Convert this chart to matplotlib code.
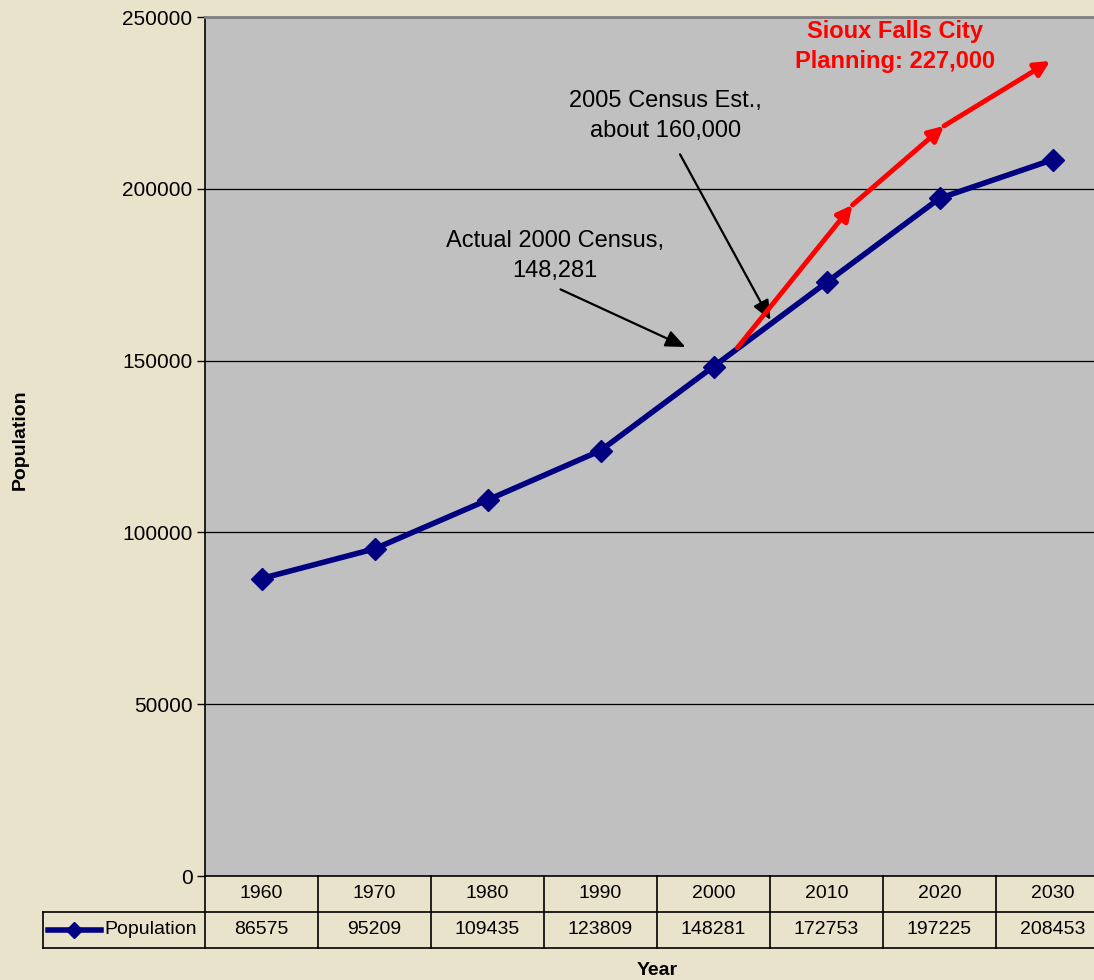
import matplotlib
matplotlib.use("Agg")
import matplotlib.pyplot as plt
from matplotlib.lines import Line2D

# data
years = ["1960", "1970", "1980", "1990", "2000", "2010", "2020", "2030"]
population = [86575, 95209, 109435, 123809, 148281, 172753, 197225, 208453]

# red "city planning" arrows (x in category units)
plan_x = [4.21, 5.23, 6.04, 6.98]
plan_y = [153700, 195300, 218300, 237200]

y_ticks = [0, 50000, 100000, 150000, 200000, 250000]

BG = "#EAE3CB"
PLOT_BG = "#C0C0C0"
NAVY = "#000080"
FONT = ["Liberation Sans", "DejaVu Sans"]

plt.rcParams["font.family"] = FONT

fig = plt.figure(figsize=(10.94, 9.8), dpi=100, facecolor=BG)
# plot area runs a bit past the right edge, like the original
ax = fig.add_axes([205 / 1094, 1 - 876 / 980, (1109 - 205) / 1094, 859 / 980])
ax.set_facecolor(PLOT_BG)

x = list(range(len(years)))
ax.plot(x, population, color=NAVY, lw=4, marker="D", markersize=11,
        solid_joinstyle="round", zorder=4)

ax.set_xlim(-0.5, len(years) - 0.5)
ax.set_ylim(0, 250000)
ax.set_yticks(y_ticks)
ax.set_yticklabels([str(v) for v in y_ticks], fontsize=15)
ax.tick_params(axis="y", direction="out", length=6, width=1, pad=3)
ax.set_xticks([])
for v in y_ticks[1:-1]:
    ax.axhline(v, color="black", lw=0.9, zorder=1)

ax.spines["top"].set_color("#808080")
ax.spines["top"].set_linewidth(2)
ax.spines["right"].set_visible(False)
ax.spines["left"].set_linewidth(1.2)
ax.spines["bottom"].set_linewidth(1.2)

# red planning arrows
for i in range(len(plan_x) - 1):
    ax.annotate("", xy=(plan_x[i + 1], plan_y[i + 1]), xytext=(plan_x[i], plan_y[i]),
                arrowprops=dict(arrowstyle="-|>,head_length=0.9,head_width=0.45",
                                color="red", lw=3.5, shrinkA=0, shrinkB=0),
                zorder=5)

ax.text(5.61, 241300, "Sioux Falls City\nPlanning: 227,000", color="red",
        fontsize=17, fontweight="bold", ha="center", va="center", linespacing=1.4)

# black callouts
ax.annotate("Actual 2000 Census,\n148,281", xy=(3.752, 153960), xytext=(2.60, 180400),
            fontsize=17, ha="center", va="center", linespacing=1.45,
            arrowprops=dict(arrowstyle="-|>,head_length=0.7,head_width=0.3",
                            color="black", lw=1.6, shrinkA=8, shrinkB=0,
                            relpos=(0.45, 0)))
ax.annotate("2005 Census Est.,\nabout 160,000", xy=(4.504, 161800), xytext=(3.575, 221200),
            fontsize=17, ha="center", va="center", linespacing=1.45,
            arrowprops=dict(arrowstyle="-|>,head_length=0.7,head_width=0.3",
                            color="black", lw=1.6, shrinkA=8, shrinkB=0,
                            relpos=(0.54, 0)))

# data table under the plot
trans = ax.get_xaxis_transform()
row_h = 36 / 859
leg_left = -0.5 - 162 / 113
tbl = dict(transform=trans, clip_on=False, color="black")
for k in range(len(years) + 1):
    ax.add_line(Line2D([k - 0.5, k - 0.5], [0, -2 * row_h], lw=1.2, **tbl))
ax.add_line(Line2D([leg_left, len(years) - 0.5], [-row_h, -row_h], lw=1.2, **tbl))
ax.add_line(Line2D([leg_left, len(years) - 0.5], [-2 * row_h, -2 * row_h], lw=1.2, **tbl))
ax.add_line(Line2D([leg_left, leg_left], [-row_h, -2 * row_h], lw=1.2, **tbl))

for i, (yr, val) in enumerate(zip(years, population)):
    ax.text(i, -0.5 * row_h, yr, transform=trans, ha="center", va="center", fontsize=14)
    ax.text(i, -1.5 * row_h, str(val), transform=trans, ha="center", va="center", fontsize=14)

# legend key inside the table
ax.add_line(Line2D([leg_left + 0.04, leg_left + 0.51], [-1.5 * row_h] * 2, color=NAVY,
                   lw=4, transform=trans, clip_on=False))
ax.add_line(Line2D([leg_left + 0.275], [-1.5 * row_h], color=NAVY, marker="D",
                   markersize=8, transform=trans, clip_on=False))
ax.text(leg_left + 0.54, -1.5 * row_h, "Population", transform=trans,
        ha="left", va="center", fontsize=14)

fig.text(20 / 1094, 1 - 440 / 980, "Population", rotation=90, ha="center", va="center",
         fontsize=14, fontweight="bold")
fig.text(657 / 1094, 1 - 970 / 980, "Year", ha="center", va="center",
         fontsize=14, fontweight="bold")

fig.savefig("out.png", dpi=100, facecolor=BG)
